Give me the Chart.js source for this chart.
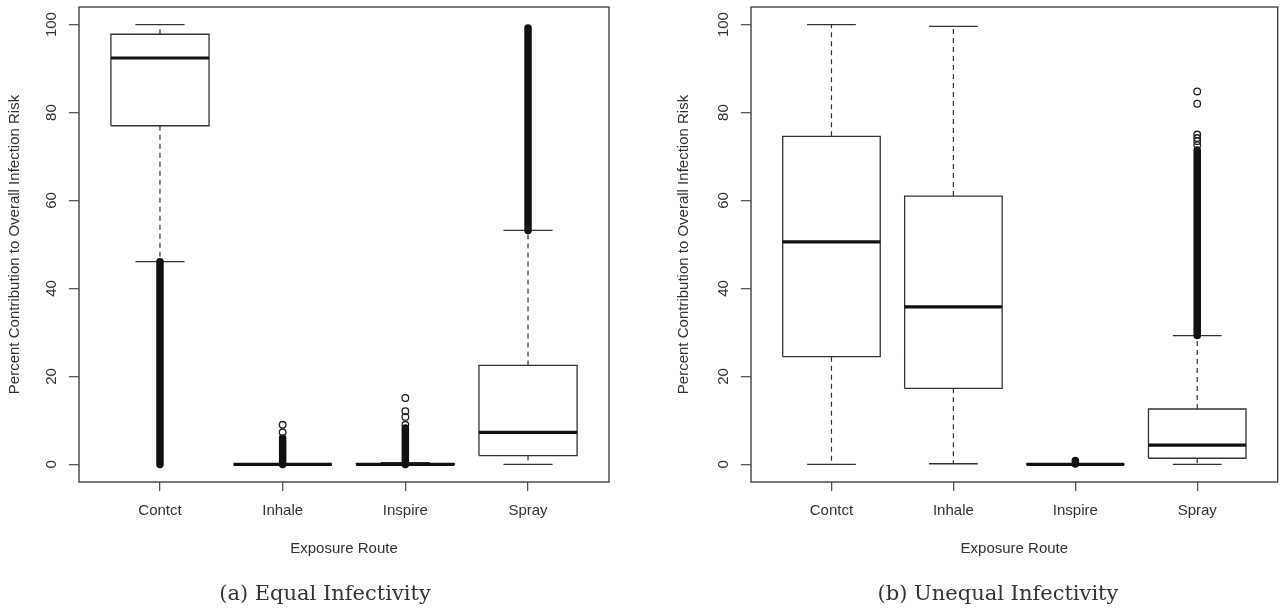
<!DOCTYPE html>
<html>
<head>
<meta charset="utf-8">
<script src="https://cdn.jsdelivr.net/npm/chart.js@4.4.1/dist/chart.umd.min.js"></script>
<style>
  body { margin: 0; background: #fff; }
  #wrap { position: relative; width: 1283px; height: 609px; }
  canvas { position: absolute; top: 0; }
  .cap { position: absolute; top: 581px; font-family: 'DejaVu Serif', serif; font-size: 21px; color: #333; transform: translateX(-50%); white-space: nowrap; }
</style>
</head>
<body>
<div id="wrap">
  <canvas id="equal" width="640" height="609" style="left:0"></canvas>
  <canvas id="unequal" width="643" height="609" style="left:640px"></canvas>
  <div class="cap" style="left:325px">(a) Equal Infectivity</div>
  <div class="cap" style="left:998px">(b) Unequal Infectivity</div>
</div>
<script>
const routes = ['Contct', 'Inhale', 'Inspire', 'Spray'];
const yTicks = [0, 20, 40, 60, 80, 100];

// (a) equal infectivity - whisker ends, hinges and medians per route
const eqLow = [46.1, 0, 0, 0];
const eqQ1 = [77.0, 0, 0, 2.0];
const eqMed = [92.4, 0, 0, 7.3];
const eqQ3 = [97.8, 0, 0.2, 22.5];
const eqHigh = [100, 0, 0.4, 53.2];
// outliers packed so tight they print as one solid bar: [from, to]
const eqDense = [[0, 46.1], [0, 6.0], [0, 8.3], [53.2, 99.2]];
const eqOut = [[], [7.3, 9.0], [9.0, 10.8, 12.1, 15.1], []];

// (b) unequal infectivity
const uneqLow = [0, 0.15, 0, 0];
const uneqQ1 = [24.5, 17.3, 0, 1.4];
const uneqMed = [50.6, 35.8, 0, 4.4];
const uneqQ3 = [74.6, 61.0, 0.05, 12.6];
const uneqHigh = [100, 99.6, 0.05, 29.3];
const uneqDense = [null, null, [0.1, 0.9], [29.3, 71.5]];
const uneqOut = [[], [], [], [72.6, 73.5, 74.2, 75.0, 82.0, 84.8]];

Chart.defaults.font.family = "'Liberation Sans', Arial, sans-serif";
Chart.defaults.color = '#333';

const INK = '#333';

// turn [x1, y1, x2, y2] pieces into one broken line
function segs(pieces) {
  const pts = [];
  pieces.forEach(p => {
    pts.push({x: p[0], y: p[1]}, {x: p[2], y: p[3]}, {x: p[2], y: null});
  });
  return pts;
}

function boxDatasets(low, q1, med, q3, high, dense, outs) {
  const whisk = [], caps = [], boxes = [], meds = [], runs = [], pts = [];
  routes.forEach((r, i) => {
    const x = i + 1;
    whisk.push([x, q3[i], x, high[i]], [x, q1[i], x, low[i]]);
    caps.push([x - 0.2, high[i], x + 0.2, high[i]], [x - 0.2, low[i], x + 0.2, low[i]]);
    boxes.push({x: x - 0.4, y: q1[i]}, {x: x - 0.4, y: q3[i]}, {x: x + 0.4, y: q3[i]},
               {x: x + 0.4, y: q1[i]}, {x: x - 0.4, y: q1[i]}, {x: x + 0.4, y: null});
    meds.push([x - 0.4, med[i], x + 0.4, med[i]]);
    if (dense[i]) runs.push([x, dense[i][0], x, dense[i][1]]);
    outs[i].forEach(v => pts.push({x: x, y: v}));
  });
  const base = {pointRadius: 0, tension: 0, fill: false, spanGaps: false};
  return [
    {...base, data: pts, showLine: false, pointRadius: 3.3, pointBorderWidth: 1.3,
      pointBorderColor: '#222', pointBackgroundColor: 'rgba(0,0,0,0)'},
    {...base, data: segs(runs), borderColor: '#111', borderWidth: 7.5, borderCapStyle: 'round'},
    {...base, data: segs(meds), borderColor: '#111', borderWidth: 3.2},
    {...base, data: boxes, borderColor: INK, borderWidth: 1.3, borderJoinStyle: 'miter'},
    {...base, data: segs(caps), borderColor: INK, borderWidth: 1.3},
    {...base, data: segs(whisk), borderColor: INK, borderWidth: 1.2, borderDash: [5, 4]}
  ];
}

// plot frame and rotated y tick labels, R style
const framePlugin = {
  id: 'frame',
  afterDraw(chart) {
    const {ctx, chartArea: a} = chart;
    const ys = chart.scales.y;
    ctx.save();
    ctx.strokeStyle = '#444';
    ctx.lineWidth = 1.4;
    ctx.strokeRect(a.left, a.top, a.right - a.left, a.bottom - a.top);
    ctx.font = "15px 'Liberation Sans', Arial, sans-serif";
    ctx.fillStyle = INK;
    ctx.textAlign = 'center';
    ctx.textBaseline = 'middle';
    yTicks.forEach(v => {
      ctx.save();
      ctx.translate(a.left - 27, ys.getPixelForValue(v));
      ctx.rotate(-Math.PI / 2);
      ctx.fillText(String(v), 0, 0);
      ctx.restore();
    });
    ctx.restore();
  }
};

function makePanel(id, padLeft, yWidth, padRight, datasets) {
  new Chart(document.getElementById(id), {
    type: 'line',
    data: {datasets},
    plugins: [framePlugin],
    options: {
      responsive: false,
      animation: false,
      layout: {padding: {left: padLeft, right: padRight, top: 7, bottom: 53}},
      plugins: {legend: {display: false}, tooltip: {enabled: false}},
      scales: {
        x: {
          type: 'linear',
          min: 0.34,
          max: 4.66,
          afterBuildTicks: s => { s.ticks = routes.map((r, i) => ({value: i + 1})); },
          afterFit: s => { s.height = 74; },
          border: {display: false},
          grid: {drawOnChartArea: false, drawTicks: true, tickLength: 9, color: '#555', lineWidth: 1.3},
          ticks: {autoSkip: false, maxRotation: 0, padding: 11, font: {size: 15},
                  callback: v => routes[v - 1]},
          title: {display: true, text: 'Exposure Route', font: {size: 15, lineHeight: 1},
                  padding: {top: 0, bottom: 0}}
        },
        y: {
          min: -4,
          max: 104,
          afterBuildTicks: s => { s.ticks = yTicks.map(v => ({value: v})); },
          afterFit: s => { s.width = yWidth; },
          border: {display: false},
          grid: {drawOnChartArea: false, drawTicks: true, tickLength: 10, color: '#555', lineWidth: 1.3},
          ticks: {display: false},
          title: {display: true, text: 'Percent Contribution to Overall Infection Risk',
                  font: {size: 15, lineHeight: 1}, padding: {top: 0, bottom: 0}}
        }
      }
    }
  });
}

makePanel('equal', 7.5, 71.5, 31,
  boxDatasets(eqLow, eqQ1, eqMed, eqQ3, eqHigh, eqDense, eqOut));
makePanel('unequal', 36, 75, 2,
  boxDatasets(uneqLow, uneqQ1, uneqMed, uneqQ3, uneqHigh, uneqDense, uneqOut));
</script>
</body>
</html>
